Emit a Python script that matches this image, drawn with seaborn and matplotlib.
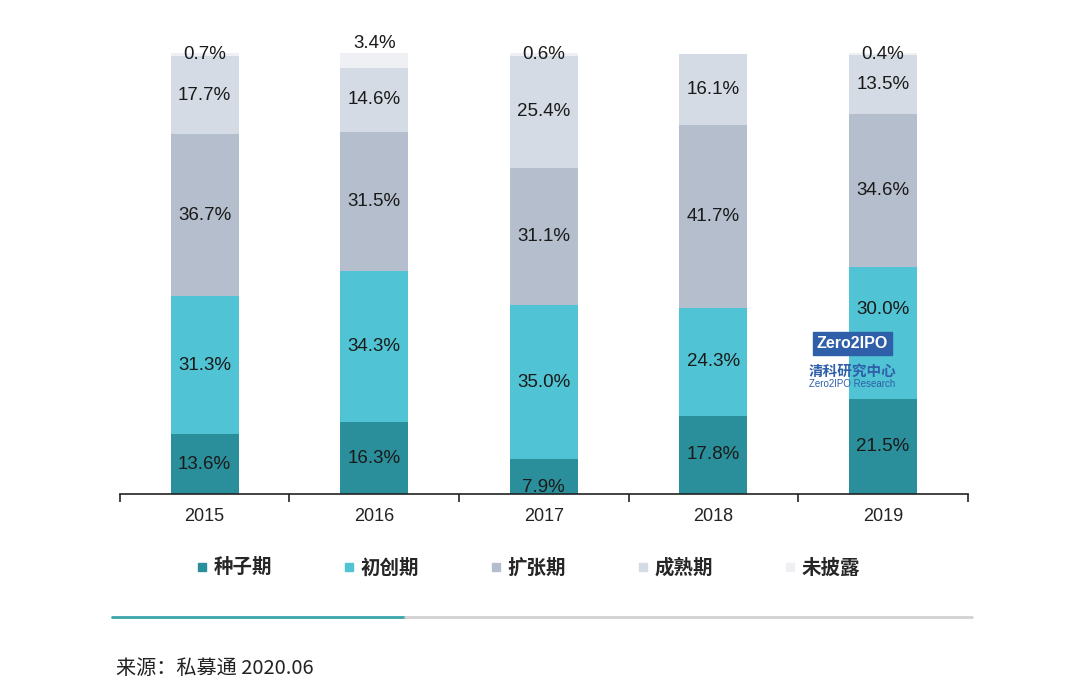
import numpy as np
import pandas as pd
import matplotlib
matplotlib.use("Agg")
import matplotlib.pyplot as plt
from matplotlib.lines import Line2D
import seaborn as sns

years = ["2015", "2016", "2017", "2018", "2019"]
stages = ["种子期", "初创期", "扩张期", "成熟期", "未披露"]
seed = [13.6, 16.3, 7.9, 17.8, 21.5]
startup = [31.3, 34.3, 35.0, 24.3, 30.0]
expansion = [36.7, 31.5, 31.1, 41.7, 34.6]
mature = [17.7, 14.6, 25.4, 16.1, 13.5]
undisclosed = [0.7, 3.4, 0.6, 0.0, 0.4]
colors = ["#2a8f9a", "#50c4d4", "#b4becd", "#d5dbe4", "#eef0f4"]

series = [seed, startup, expansion, mature, undisclosed]

sns.set_theme(style="white")
plt.rcParams["font.family"] = ["Liberation Sans", "Noto Sans CJK SC", "DejaVu Sans"]

fig = plt.figure(figsize=(10.8, 6.99), dpi=100)
ax = fig.add_axes([0.111, 0.2933, 0.785, 0.6307])

cum = np.cumsum(np.array(series), axis=0)
for i in range(len(series) - 1, -1, -1):
    df = pd.DataFrame({"year": years, "val": cum[i]})
    sns.barplot(data=df, x="year", y="val", color=colors[i], width=0.4,
                saturation=1, ax=ax, errorbar=None, edgecolor="none", linewidth=0)

# data labels (a few nudged as in the original chart)
nudge = {("2016", 4): 3.7, ("2019", 1): 5.4, ("2017", 0): -2.4}
for i, s in enumerate(series):
    for j, v in enumerate(s):
        if v <= 0:
            continue
        base = cum[i][j] - v
        y = base + v / 2 + nudge.get((years[j], i), 0)
        ax.text(j, y, f"{v:.1f}%", ha="center", va="center", fontsize=13.5,
                color="#1a1a1a", family="Liberation Sans")

ax.set_ylim(0, 100)
ax.set_xlim(-0.5, 4.5)
ax.set_xlabel("")
ax.set_ylabel("")
ax.set_yticks([])
for sp in ["top", "right", "left"]:
    ax.spines[sp].set_visible(False)
ax.spines["bottom"].set_color("#222222")
ax.spines["bottom"].set_linewidth(1.2)
ax.set_xticks(range(len(years)), labels=years, fontfamily="Liberation Sans",
              fontsize=13, color="#222222")
ax.tick_params(axis="x", which="major", length=0, pad=10)
ax.set_xticks(np.arange(-0.5, 5, 1.0), minor=True)
ax.tick_params(axis="x", which="minor", direction="out", length=6, width=1.2,
               color="#222222", bottom=True)

# legend
handles = [Line2D([0], [0], marker="s", linestyle="none", markersize=6,
                  markerfacecolor=c, markeredgecolor=c) for c in colors]
fig.legend(handles, stages, loc="center", bbox_to_anchor=(0.486, 0.188),
           ncol=5, frameon=False, handletextpad=0.0, columnspacing=3.35,
           handlelength=1.2,
           prop={"family": ["Noto Sans CJK SC"], "weight": "bold", "size": 14})

# separator line
fig.add_artist(Line2D([0.104, 0.375], [0.117, 0.117], color="#3aa3ab", lw=2))
fig.add_artist(Line2D([0.375, 0.900], [0.117, 0.117], color="#d2d2d2", lw=2))

fig.text(0.107, 0.044, "来源：私募通 2020.06", fontsize=14.5, color="#222222",
         family=["Noto Sans CJK SC", "DejaVu Sans"], va="center")

# watermark
fig.text(0.789, 0.508, "Zero2IPO", fontsize=11.5, fontweight="bold", color="white",
         ha="center", va="center", family="Liberation Sans",
         bbox=dict(boxstyle="square,pad=0.25", fc="#2f5fa8", ec="#2f5fa8"))
fig.text(0.789, 0.470, "清科研究中心", fontsize=10.5, fontweight="bold", color="#2f5fa8",
         ha="center", va="center", family=["Noto Sans CJK SC"])
fig.text(0.789, 0.451, "Zero2IPO Research", fontsize=7, color="#2f5fa8",
         ha="center", va="center", family="Liberation Sans")

fig.savefig("out.png", dpi=100, facecolor="white")
